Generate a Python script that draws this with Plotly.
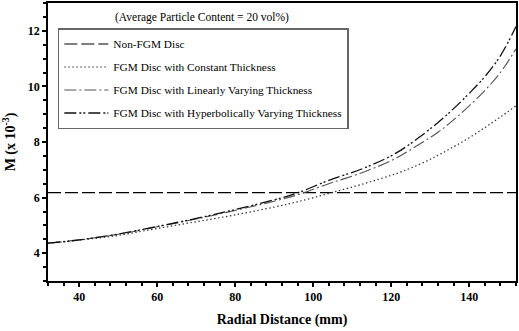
import plotly.graph_objects as go

# Radial distance (mm)
x_nonfgm = [32, 152]
m_nonfgm = [6.18, 6.18]

x_vals = [32, 40, 50, 60, 70, 80, 90, 96, 104, 113, 121, 127, 132, 136, 140, 144, 148, 152]
m_constant = [4.36, 4.47, 4.64, 4.89, 5.13, 5.38, 5.66, 5.85, 6.15, 6.50, 6.85, 7.18, 7.52, 7.83, 8.15, 8.52, 8.90, 9.30]
m_linear = [4.36, 4.48, 4.68, 4.95, 5.23, 5.54, 5.87, 6.10, 6.50, 6.92, 7.40, 7.90, 8.35, 8.80, 9.30, 9.85, 10.50, 11.35]
m_hyper = [4.36, 4.48, 4.69, 4.96, 5.25, 5.57, 5.92, 6.17, 6.62, 7.06, 7.58, 8.15, 8.70, 9.20, 9.75, 10.35, 11.10, 12.15]

names = ["Non-FGM Disc", "FGM Disc with Constant Thickness",
         "FGM Disc with Linearly Varying Thickness",
         "FGM Disc with Hyperbolically Varying Thickness"]

FONT = "Liberation Serif, Times New Roman, serif"

fig = go.Figure()
fig.add_trace(go.Scatter(x=x_nonfgm, y=m_nonfgm, mode="lines", name=names[0],
                         legendgroup="a",
                         line=dict(color="black", width=1.2, dash="13px,4px")))
fig.add_trace(go.Scatter(x=x_vals, y=m_constant, mode="lines", name=names[1],
                         legendgroup="b", line_shape="spline",
                         line=dict(color="#333333", width=1.2, dash="1.5px,2.5px")))
fig.add_trace(go.Scatter(x=x_vals, y=m_linear, mode="lines", name=names[2],
                         legendgroup="c", line_shape="spline",
                         line=dict(color="#555555", width=1.1, dash="12px,3px,2px,3px")))
fig.add_trace(go.Scatter(x=x_vals, y=m_hyper, mode="lines", name=names[3],
                         legendgroup="d", line_shape="spline",
                         line=dict(color="#111111", width=1.3, dash="12px,3px,2px,2px,2px,3px")))

fig.update_layout(
    width=519, height=331,
    margin=dict(l=48, r=1, t=1, b=50),
    paper_bgcolor="white", plot_bgcolor="white",
    font=dict(family=FONT, size=11, color="black"),
    showlegend=True,
    legend=dict(x=0.021, y=0.91, xanchor="left", yanchor="top",
                bgcolor="white", bordercolor="#666666", borderwidth=1.5,
                font=dict(family=FONT, size=11.3, color="black"),
                traceorder="grouped", tracegroupgap=4, itemwidth=44),
    annotations=[dict(x=0.138, y=0.948, xref="paper", yref="paper",
                      xanchor="left", yanchor="middle", showarrow=False,
                      text="(Average Particle Content = 20 vol%)",
                      font=dict(family=FONT, size=11.5, color="black"))],
)

fig.update_xaxes(range=[32, 152], tickmode="array", tickvals=[40, 60, 80, 100, 120, 140],
                 ticks="outside", ticklen=4, tickwidth=1.5, tickcolor="black",
                 minor=dict(dtick=4, tick0=0, ticks="outside", ticklen=3, tickcolor="black"),
                 showline=True, linecolor="black", linewidth=1.5, mirror=True,
                 showgrid=False, zeroline=False,
                 tickfont=dict(family=FONT, size=12, color="black", weight="bold"),
                 title=dict(text="<b>Radial Distance (mm)</b>", standoff=11,
                            font=dict(family=FONT, size=14, color="black")))
fig.update_yaxes(range=[3, 13], tickmode="array", tickvals=[4, 6, 8, 10, 12],
                 ticks="outside", ticklen=4, tickwidth=1.5, tickcolor="black",
                 minor=dict(dtick=0.5, tick0=0, ticks="outside", ticklen=3, tickcolor="black"),
                 showline=True, linecolor="black", linewidth=1.5, mirror=True,
                 showgrid=False, zeroline=False,
                 tickfont=dict(family=FONT, size=12, color="black", weight="bold"),
                 title=dict(text="<b>M (x 10<sup>-3</sup>)</b>", standoff=10,
                            font=dict(family=FONT, size=14, color="black")))

fig.write_html("out.html", config={"displayModeBar": False},
               post_script="document.body.style.margin='0';document.body.style.overflow='hidden';")
